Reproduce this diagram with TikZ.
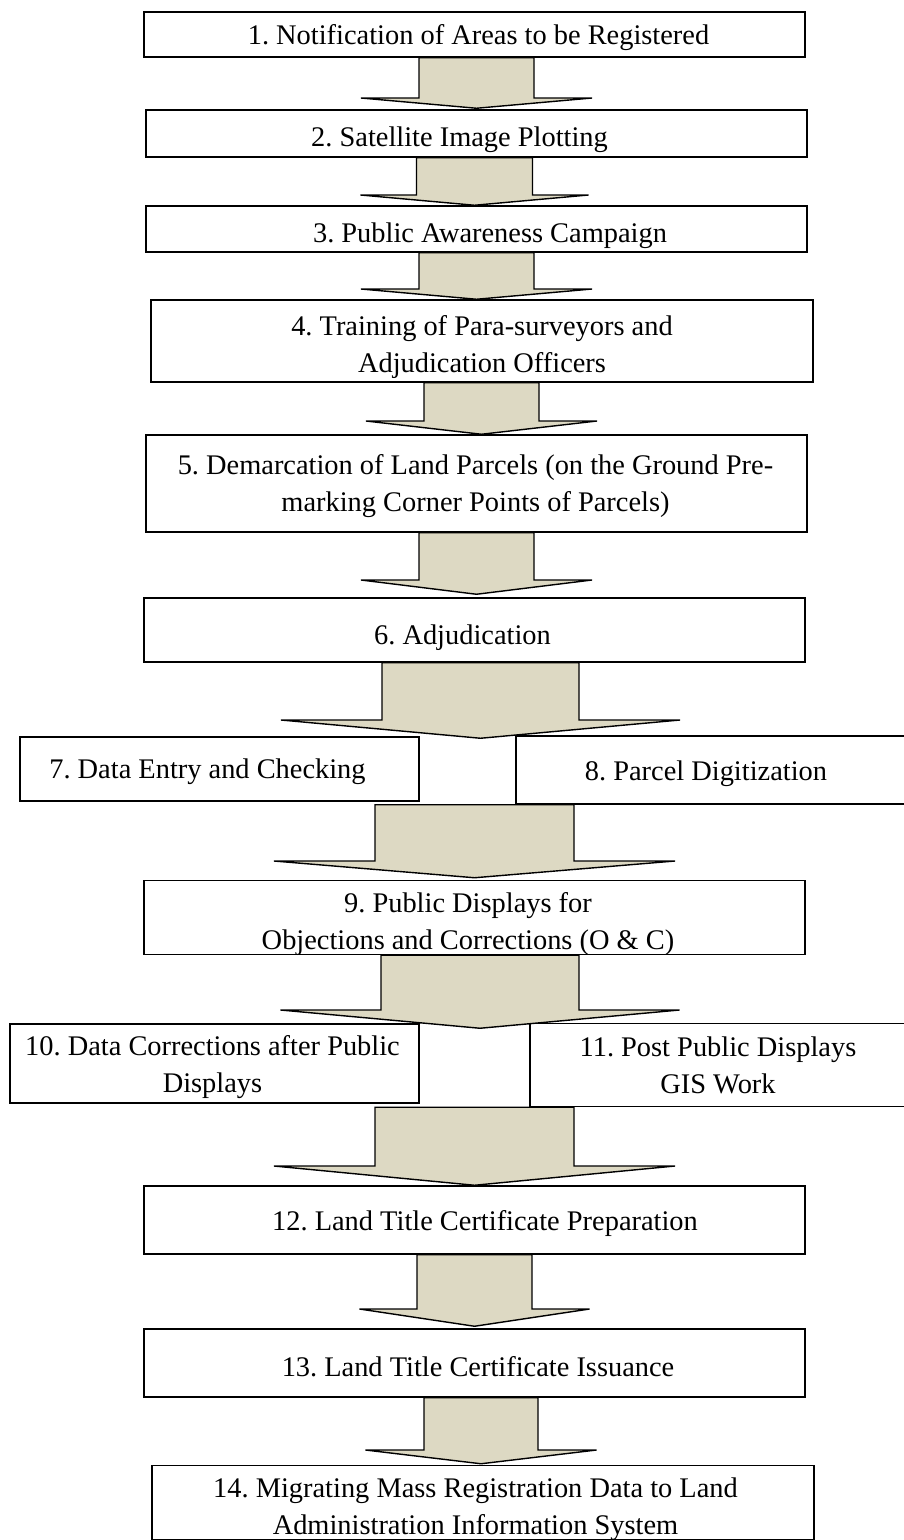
\documentclass[tikz,border=0pt]{standalone}
\usepackage{fontspec}
\setmainfont{Liberation Serif}
\usetikzlibrary{calc}
\definecolor{arrfill}{RGB}{221,217,195}
% text inside a box: #1 horizontal padding (2 x shift), #2 vertical raise, #3 lines
\newcommand{\bt}[3]{\hspace*{#1}\raisebox{#2}[\height][\depth]{\begin{tabular}{@{}c@{}}#3\end{tabular}}}
% block arrow: #1 from node, #2 to node, #3 centre x, #4 shaft half width, #5 head half width, #6 head base y, #7 tip offset
\newcommand{\blockarrow}[7]{%
  \draw[blockarr] let \p1=(#1.south), \p2=($(#2.north)+(0,#7)$) in
    ({#3-#4},\y1) -- ({#3-#4},#6) -- ({#3-#5},#6) -- (#3,\y2)
    -- ({#3+#5},#6) -- ({#3+#4},#6) -- ({#3+#4},\y1) -- cycle;}
\frenchspacing
\begin{document}
\begin{tikzpicture}[x=1pt,y=-1pt,
  box/.style={draw, line width=1.5pt, fill=white, inner sep=0pt,
    font=\fontsize{28.4}{37}\selectfont\frenchspacing},
  blockarr/.style={draw, line width=1.4pt, fill=arrfill, line join=miter}]
\useasboundingbox (0,0) rectangle (904,1540);
\fill[white] (0,0) rectangle (904,1540);
\clip (0,0) rectangle (904,1540);

\node[box, minimum width=661pt, minimum height=45pt] (b1) at (474.5,34.5)
  {\bt{8pt}{-3pt}{1. Notification of Areas to be Registered}};
\node[box, minimum width=661pt, minimum height=47pt] (b2) at (476.5,133.5)
  {\bt{-34pt}{-6pt}{2. Satellite Image Plotting}};
\node[box, minimum width=661pt, minimum height=46pt] (b3) at (476.5,229)
  {\bt{27pt}{-6pt}{3. Public Awareness Campaign}};
\node[box, minimum width=662pt, minimum height=82pt] (b4) at (482,341)
  {\bt{0pt}{-6pt}{4. Training of Para-surveyors and\\Adjudication Officers}};
\node[box, minimum width=661pt, minimum height=97pt] (b5) at (476.5,483.5)
  {\bt{-2pt}{-2pt}{5. Demarcation of Land Parcels (on the Ground Pre-\\marking Corner Points of Parcels)}};
\node[box, minimum width=661pt, minimum height=64pt] (b6) at (474.5,630)
  {\bt{-24pt}{-7pt}{6. Adjudication}};
\node[box, minimum width=399pt, minimum height=64pt] (b7) at (219.5,769)
  {\bt{-24pt}{-2pt}{7. Data Entry and Checking}};
\node[box, minimum width=404pt, minimum height=68pt] (b8) at (718,770)
  {\bt{-24pt}{-3pt}{8. Parcel Digitization}};
\node[box, minimum width=661pt, minimum height=71pt] (b9) at (474.5,917.5)
  {\bt{-13pt}{-6pt}{9. Public Displays for\\Objections and Corrections (O \& C)}};
\node[box, minimum width=409pt, minimum height=79pt] (b10) at (214.5,1063.5)
  {\bt{-4pt}{-3pt}{10. Data Corrections after Public\\Displays}};
\node[box, minimum width=390pt, minimum height=83pt] (b11) at (725,1065)
  {\bt{-14pt}{-3pt}{11. Post Public Displays\\GIS Work}};
\node[box, minimum width=661pt, minimum height=68pt] (b12) at (474.5,1220)
  {\bt{21pt}{-3pt}{12. Land Title Certificate Preparation}};
\node[box, minimum width=661pt, minimum height=68pt] (b13) at (474.5,1363)
  {\bt{7pt}{-6pt}{13. Land Title Certificate Issuance}};
\node[box, minimum width=662pt, minimum height=71pt] (b14) at (483,1502.5)
  {\bt{-15pt}{-6pt}{14. Migrating Mass Registration Data to Land\\Administration Information System}};

\blockarrow{b1}{b2}{476.5}{57.5}{115.5}{98}{-1}
\blockarrow{b2}{b3}{474.5}{58}{114}{195}{0}
\blockarrow{b3}{b4}{476.5}{57.5}{115.5}{289}{0}
\blockarrow{b4}{b5}{481.5}{57.5}{115.5}{421}{0}
\blockarrow{b5}{b6}{476.5}{57.5}{115.5}{580}{-3}
\blockarrow{b6}{b7}{480.5}{98.5}{199.5}{720}{2}
\blockarrow{b8}{b9}{474.5}{99.5}{200.5}{861}{-2}
\blockarrow{b9}{b10}{480}{99}{199.5}{1010}{5}
\blockarrow{b11}{b12}{474.5}{99.5}{200.5}{1166}{0}
\blockarrow{b12}{b13}{474.5}{57.5}{115}{1309}{-2}
\blockarrow{b13}{b14}{481}{57}{115.5}{1450}{-1}
\end{tikzpicture}
\end{document}
